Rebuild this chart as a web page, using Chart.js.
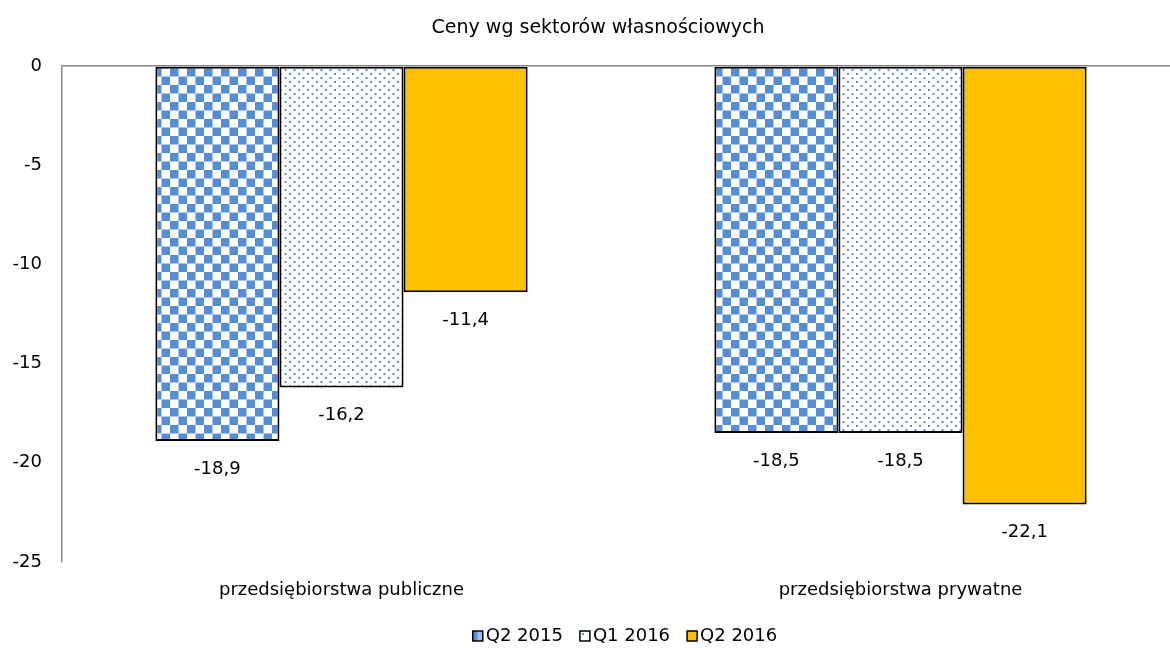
<!DOCTYPE html>
<html>
<head>
<meta charset="utf-8">
<script src="https://cdn.jsdelivr.net/npm/chart.js@4/dist/chart.umd.min.js"></script>
<style>
  html, body { margin: 0; padding: 0; background: #fff; overflow: hidden; }
  #wrap { width: 1200px; height: 648px; }
</style>
</head>
<body>
<div id="wrap"><canvas id="chart"></canvas></div>
<script>
// Ceny wg sektorów własnościowych
var titleText = "Ceny wg sektorów własnościowych";
var categories = ["przedsiębiorstwa publiczne", "przedsiębiorstwa prywatne"];
var seriesNames = ["Q2 2015", "Q1 2016", "Q2 2016"];
var q2_2015 = [-18.9, -18.5];
var q1_2016 = [-16.2, -18.5];
var q2_2016 = [-11.4, -22.1];
var yTicks = [0, -5, -10, -15, -20, -25];

var blue = "#558ED5";
var gold = "#FFC000";
var family = '"DejaVu Sans", Verdana, sans-serif';
var font = { family: family, size: 18 };

function checkerPattern() {
  var c = document.createElement("canvas");
  c.width = 17; c.height = 17;
  var x = c.getContext("2d");
  x.fillStyle = "#fff"; x.fillRect(0, 0, 17, 17);
  x.fillStyle = blue;
  x.fillRect(0, 0, 8.5, 8.5);
  x.fillRect(8.5, 8.5, 8.5, 8.5);
  return x.createPattern(c, "repeat");
}

function dotPattern() {
  var c = document.createElement("canvas");
  c.width = 9; c.height = 8;
  var x = c.getContext("2d");
  x.fillStyle = "#fff"; x.fillRect(0, 0, 9, 8);
  x.fillStyle = "#5F93D8";
  x.fillRect(1, 1, 2, 2);
  x.fillRect(5.5, 5, 2, 2);
  return x.createPattern(c, "repeat");
}

var fills = [checkerPattern(), dotPattern(), gold];
var seriesData = [q2_2015, q1_2016, q2_2016];

// values under the bar ends, Polish decimal comma
var valueLabels = {
  id: "valueLabels",
  afterDatasetsDraw: function (chart) {
    var ctx = chart.ctx;
    ctx.save();
    ctx.fillStyle = "#000";
    ctx.font = font.size + "px " + family;
    ctx.textAlign = "center";
    ctx.textBaseline = "middle";
    chart.data.datasets.forEach(function (ds, i) {
      chart.getDatasetMeta(i).data.forEach(function (bar, j) {
        var txt = ds.data[j].toFixed(1).replace(".", ",");
        ctx.fillText(txt, bar.x, bar.y + 28);
      });
    });
    ctx.restore();
  }
};

// title and legend drawn by hand so they sit where the original has them
var titleAndLegend = {
  id: "titleAndLegend",
  afterDraw: function (chart) {
    var ctx = chart.ctx;
    ctx.save();
    ctx.fillStyle = "#000";
    ctx.textBaseline = "middle";
    ctx.textAlign = "center";
    ctx.font = "19px " + family;
    ctx.fillText(titleText, 598, 28);

    ctx.font = font.size + "px " + family;
    ctx.textAlign = "left";
    var box = 10, gapIn = 3, gapOut = 17, y = 636;
    var widths = seriesNames.map(function (s) { return ctx.measureText(s).width; });
    var total = widths.reduce(function (a, b) { return a + b; }, 0) + seriesNames.length * (box + gapIn) + (seriesNames.length - 1) * gapOut;
    var x = 625 - total / 2;
    seriesNames.forEach(function (name, i) {
      var bx = x, by = y - box / 2;
      ctx.fillStyle = "#fff";
      ctx.fillRect(bx, by, box, box);
      if (i === 0) {
        ctx.fillStyle = blue;
        ctx.fillRect(bx, by, box / 2, box);
        ctx.fillStyle = "#9DBCE6";
        ctx.fillRect(bx + box / 2, by, box / 2, box);
      } else if (i === 1) {
        ctx.fillStyle = blue;
        ctx.fillRect(bx + 2, by + 2, 2, 2);
      } else {
        ctx.fillStyle = gold;
        ctx.fillRect(bx, by, box, box);
      }
      ctx.strokeStyle = "#000";
      ctx.lineWidth = 1.5;
      ctx.strokeRect(bx, by, box, box);
      ctx.fillStyle = "#000";
      ctx.fillText(name, bx + box + gapIn, y);
      x += box + gapIn + widths[i] + gapOut;
    });
    ctx.restore();
  }
};

new Chart(document.getElementById("chart"), {
  type: "bar",
  data: {
    labels: categories,
    datasets: seriesNames.map(function (name, i) {
      return {
        label: name,
        data: seriesData[i],
        backgroundColor: fills[i],
        borderColor: "#000",
        borderWidth: 2,
        borderSkipped: false,
        categoryPercentage: 0.666,
        barPercentage: 1
      };
    })
  },
  plugins: [valueLabels, titleAndLegend],
  options: {
    responsive: true,
    maintainAspectRatio: false,
    animation: false,
    layout: { padding: { top: 66, right: 20, left: 0, bottom: 0 } },
    plugins: {
      title: { display: false },
      legend: { display: false },
      tooltip: { enabled: false }
    },
    scales: {
      x: {
        border: { display: false },
        grid: { display: false, drawTicks: false },
        ticks: { color: "#000", font: font, padding: 18 },
        afterFit: function (s) { s.height = 86; }
      },
      y: {
        min: -25,
        max: 0,
        afterBuildTicks: function (axis) {
          axis.ticks = yTicks.map(function (v) { return { value: v }; });
        },
        afterFit: function (s) { s.width = 62; },
        border: { display: true, color: "#868686", width: 1.5 },
        grid: {
          drawTicks: false,
          color: function (ctx) { return ctx.tick && ctx.tick.value === 0 ? "#868686" : "rgba(0,0,0,0)"; },
          lineWidth: 1.5
        },
        ticks: { color: "#000", font: font, padding: 20 }
      }
    }
  }
});
</script>
</body>
</html>
